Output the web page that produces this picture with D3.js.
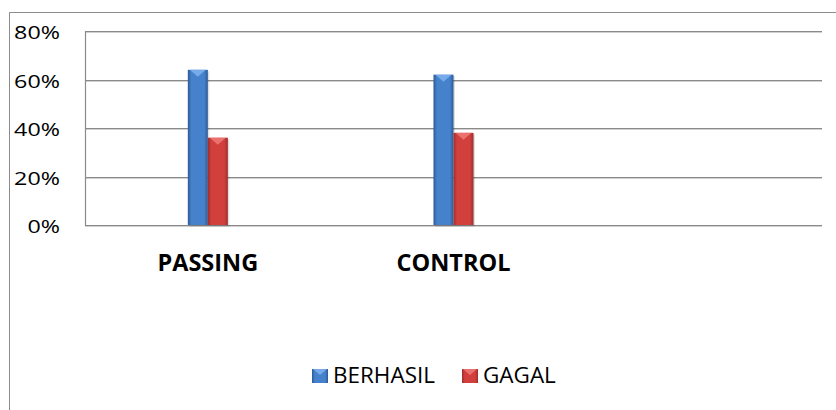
<!DOCTYPE html>
<html>
<head>
<meta charset="utf-8">
<script src="https://cdn.jsdelivr.net/npm/d3@7"></script>
<style>
  html, body { margin: 0; padding: 0; background: #fff; }
  svg { display: block; }
  text { font-family: "Open Sans", "Liberation Sans", sans-serif; fill: #000; }
</style>
</head>
<body>
<svg id="chart" width="836" height="410"></svg>
<script>
// ---- data ----
const categories = ["PASSING", "CONTROL", ""];
const seriesNames = ["BERHASIL", "GAGAL"];
const berhasil = [0.64, 0.62, null];
const gagal = [0.36, 0.38, null];
const yTicks = [0, 0.2, 0.4, 0.6, 0.8];

const W = 836, H = 410;
const plot = { left: 85, right: 822, top: 31, bottom: 225 };

const svg = d3.select("#chart");
const defs = svg.append("defs");

function barGrad(id, edge, mid) {
  const g = defs.append("linearGradient").attr("id", id)
    .attr("x1", "0%").attr("x2", "100%").attr("y1", "0%").attr("y2", "0%");
  g.append("stop").attr("offset", "0%").attr("stop-color", edge);
  g.append("stop").attr("offset", "18%").attr("stop-color", mid);
  g.append("stop").attr("offset", "82%").attr("stop-color", mid);
  g.append("stop").attr("offset", "100%").attr("stop-color", edge);
}
barGrad("gBlue", "#2c5a96", "#4682cc");
barGrad("gRed", "#9c2e2c", "#d2403d");
const colors = { BERHASIL: { fill: "url(#gBlue)", top: "#7fb2ee", solid: "#4179c0" },
                 GAGAL: { fill: "url(#gRed)", top: "#ee7a77", solid: "#c23a38" } };

// outer frame (left & top)
svg.append("path")
  .attr("d", `M9.5,${H} V12.5 H${W}`)
  .attr("fill", "none").attr("stroke", "#8c8c8c").attr("stroke-width", 1);

// scales
const x0 = d3.scaleBand().domain(categories).range([plot.left, plot.right]).padding(0);
const bw = x0.bandwidth();
const groupFrac = 0.163;
const x1 = d3.scaleBand().domain(seriesNames)
  .range([bw / 2 - bw * groupFrac / 2, bw / 2 + bw * groupFrac / 2]).padding(0);
const y = d3.scaleLinear().domain([0, 0.8]).range([plot.bottom, plot.top]);

// gridlines
const grid = svg.append("g");
grid.selectAll("line.sh").data(yTicks).join("line")
  .attr("x1", plot.left).attr("x2", plot.right)
  .attr("y1", d => Math.round(y(d)) + 1.5).attr("y2", d => Math.round(y(d)) + 1.5)
  .attr("stroke", "#d0d0d0").attr("stroke-width", 1);
grid.selectAll("line.g").data(yTicks).join("line")
  .attr("x1", plot.left).attr("x2", plot.right)
  .attr("y1", d => Math.round(y(d)) + 0.5).attr("y2", d => Math.round(y(d)) + 0.5)
  .attr("stroke", "#8a8a8a").attr("stroke-width", 1.2);

// left axis line
svg.append("line")
  .attr("x1", plot.left + 0.5).attr("x2", plot.left + 0.5)
  .attr("y1", y(0.8)).attr("y2", y(0) + 1)
  .attr("stroke", "#8a8a8a").attr("stroke-width", 1.2);

// y labels
const yl = svg.append("g").selectAll("text").data(yTicks).join("text")
  .attr("x", 60).attr("y", d => y(d) + 8)
  .attr("text-anchor", "end")
  .style("font-size", "17.5px")
  .text(d => d3.format(".0%")(d));
yl.each(function () {
  const L = this.getComputedTextLength();
  d3.select(this).attr("textLength", L * 1.33).attr("lengthAdjust", "spacingAndGlyphs");
});

// bars
const rows = [];
categories.forEach((c, i) => {
  [["BERHASIL", berhasil[i]], ["GAGAL", gagal[i]]].forEach(([s, v]) => {
    if (v != null) rows.push({ cat: c, s, v });
  });
});
const bars = svg.append("g");
// soft shadow
bars.selectAll("rect.shadow").data(rows).join("rect")
  .attr("x", d => x0(d.cat) + x1(d.s) + 1.5)
  .attr("y", d => y(d.v) + 1.5)
  .attr("width", x1.bandwidth())
  .attr("height", d => y(0) - y(d.v))
  .attr("fill", "#000").attr("opacity", 0.12);
bars.selectAll("rect.bar").data(rows).join("rect")
  .attr("x", d => x0(d.cat) + x1(d.s))
  .attr("y", d => y(d.v))
  .attr("width", x1.bandwidth())
  .attr("height", d => y(0) - y(d.v))
  .attr("fill", d => colors[d.s].fill);
// bevel top triangle
bars.selectAll("path.bevel").data(rows).join("path")
  .attr("d", d => {
    const xl = x0(d.cat) + x1(d.s), xr = xl + x1.bandwidth(), yt = y(d.v);
    const xm = (xl + xr) / 2;
    return `M${xl + 2},${yt} L${xr - 2},${yt} L${xm},${yt + 7} Z`;
  })
  .attr("fill", d => colors[d.s].top).attr("opacity", 0.85);

// category labels
svg.append("g").selectAll("text").data(categories).join("text")
  .attr("x", d => x0(d) + bw / 2)
  .attr("y", 271)
  .attr("text-anchor", "middle")
  .style("font-size", "23.5px").style("font-weight", "700")
  .text(d => d);

// legend
const legendItems = [
  { s: "BERHASIL", sx: 312, tx: 333 },
  { s: "GAGAL", sx: 462, tx: 483 }
];
const lg = svg.append("g");
legendItems.forEach(it => {
  lg.append("rect").attr("x", it.sx).attr("y", 369).attr("width", 16).attr("height", 14)
    .attr("fill", colors[it.s].fill);
  lg.append("path")
    .attr("d", `M${it.sx + 1},369 L${it.sx + 15},369 L${it.sx + 8},375 Z`)
    .attr("fill", colors[it.s].top).attr("opacity", 0.85);
  const t = lg.append("text").attr("x", it.tx).attr("y", 383)
    .style("font-size", "21px").text(it.s);
  const L = t.node().getComputedTextLength();
  t.attr("textLength", L * 1.07).attr("lengthAdjust", "spacingAndGlyphs");
});
</script>
</body>
</html>
